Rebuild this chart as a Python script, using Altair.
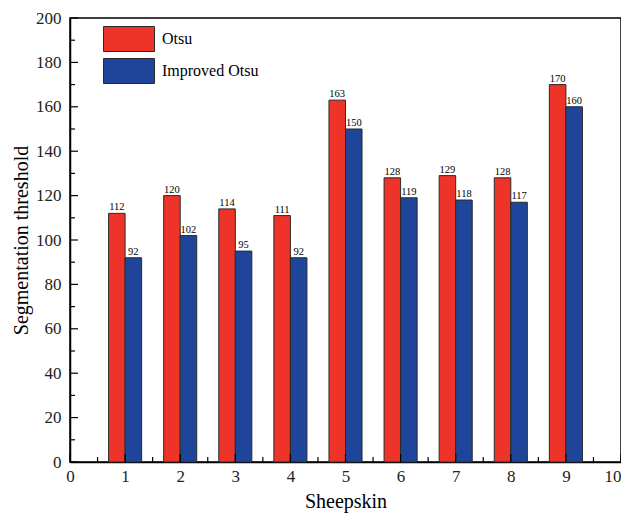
import altair as alt
import pandas as pd

sheepskin = [1, 2, 3, 4, 5, 6, 7, 8, 9]
otsu = [112, 120, 114, 111, 163, 128, 129, 128, 170]
improved = [92, 102, 95, 92, 150, 119, 118, 117, 160]
methods = ["Otsu", "Improved Otsu"]
colors = ["#EE3428", "#1F459A"]
x_major = [0, 1, 2, 3, 4, 5, 6, 7, 8, 9, 10]
x_minor = [0.5, 1.5, 2.5, 3.5, 4.5, 5.5, 6.5, 7.5, 8.5, 9.5]
y_major = [0, 20, 40, 60, 80, 100, 120, 140, 160, 180, 200]
y_minor = [10, 30, 50, 70, 90, 110, 130, 150, 170, 190]

rows = []
for s, a, b in zip(sheepskin, otsu, improved):
    rows.append({"sheep": s, "method": methods[0], "value": a})
    rows.append({"sheep": s, "method": methods[1], "value": b})
df = pd.DataFrame(rows)

W, H = 551, 444
FONT = "Liberation Serif"

xscale = alt.Scale(domain=[0, 10], nice=False, zero=False)
yscale = alt.Scale(domain=[0, 200], nice=False)

base = alt.Chart(df).transform_calculate(
    x0="datum.sheep + (datum.method === 'Otsu' ? -0.3 : 0)"
).transform_calculate(
    x1="datum.x0 + 0.3", xc="datum.x0 + 0.15"
)

xaxis = alt.Axis(
    values=x_major,
    format="d",
    ticks=False,
    labelPadding=6,
    labelFlush=False,
    labelOverlap=False,
    labelAlign={"condition": {"test": "datum.value === 10", "value": "right"}, "value": "center"},
    grid=False,
    title="Sheepskin",
    titlePadding=7,
)
yaxis = alt.Axis(
    values=y_major,
    format="d",
    ticks=False,
    labelPadding=9,
    labelOverlap=False,
    grid=False,
    title="Segmentation threshold",
    titlePadding=4,
)

bars = base.mark_bar(stroke="#2a2a2a", strokeWidth=1).encode(
    x=alt.X("x0:Q", scale=xscale, axis=xaxis),
    x2="x1:Q",
    y=alt.Y("value:Q", scale=yscale, axis=yaxis),
    y2=alt.datum(0),
    fill=alt.Fill(
        "method:N",
        scale=alt.Scale(domain=methods, range=colors),
        sort=methods,
        legend=alt.Legend(
            title=None,
            orient="none",
            legendX=46,
            legendY=8,
            symbolType="M-2.04,-1H2.04V1H-2.04Z",
            symbolSize=625,
            symbolStrokeColor="#2a2a2a",
            symbolStrokeWidth=1,
            symbolOpacity=1,
            labelOffset=20,
            rowPadding=2,
            labelFont=FONT,
            labelFontSize=16,
            labelColor="black",
        ),
    ),
)

texts = base.mark_text(font=FONT, fontSize=10.5, dy=-6, color="black").encode(
    x=alt.X("xc:Q", scale=xscale, axis=xaxis),
    y=alt.Y("value:Q", scale=yscale, axis=yaxis),
    text="value:Q",
)

def ytick(vals, length):
    return alt.Chart(pd.DataFrame({"v": vals})).mark_rule(color="black", strokeWidth=1.2).encode(
        y=alt.Y("v:Q", scale=yscale, axis=yaxis),
        x=alt.value(0),
        x2=alt.value(length),
    )

def xtick(vals, length):
    return alt.Chart(pd.DataFrame({"v": vals})).mark_rule(color="black", strokeWidth=1.2).encode(
        x=alt.X("v:Q", scale=xscale, axis=xaxis),
        y=alt.value(H),
        y2=alt.value(H - length),
    )

chart = (
    alt.layer(
        bars, texts,
        ytick(y_major, 8), ytick(y_minor, 5), xtick(x_major, 8), xtick(x_minor, 5),
    )
    .properties(
        width=W,
        height=H,
        autosize=alt.AutoSizeParams(type="none"),
        padding={"left": 62, "top": 10, "right": 0, "bottom": 51},
    )
    .configure_view(stroke="black", strokeWidth=1.5)
    .configure_axis(
        domainColor="black",
        domainWidth=1.5,
        labelFont=FONT,
        labelFontSize=17,
        labelColor="#222",
        titleFont=FONT,
        titleFontSize=20,
        titleFontWeight="normal",
        titleColor="black",
    )
)

chart.save("out.html", embed_options={"renderer": "svg", "actions": False})
